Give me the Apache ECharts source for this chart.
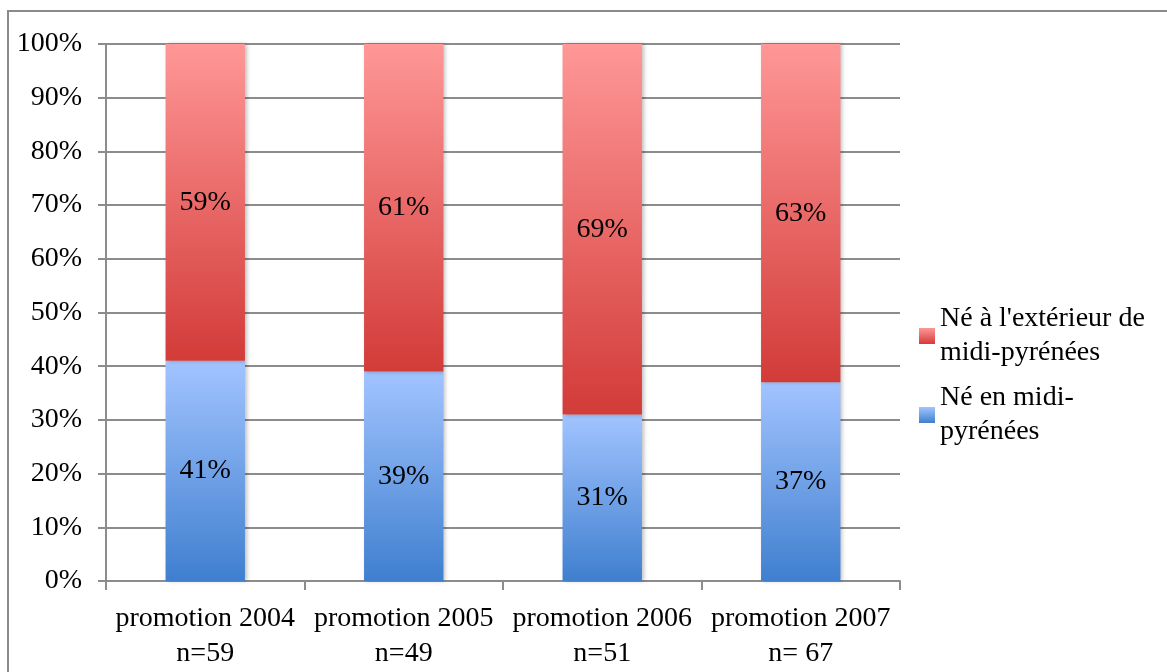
<!DOCTYPE html>
<html>
<head>
<meta charset="utf-8">
<script src="https://cdn.jsdelivr.net/npm/echarts@6/dist/echarts.min.js"></script>
<style>
	html, body { margin: 0; padding: 0; background: #fff; }
	#chart { width: 1167px; height: 672px; }
</style>
</head>
<body>
<div id="chart"></div>
<script>
var categories = ['promotion 2004\nn=59', 'promotion 2005\nn=49', 'promotion 2006\nn=51', 'promotion 2007\nn= 67'];
var bornInside = [41, 39, 31, 37];
var bornOutside = [59, 61, 69, 63];
var seriesNames = ["Né en midi-\npyrénées", "Né à l'extérieur de\nmidi-pyrénées"];
var yTicks = [0, 10, 20, 30, 40, 50, 60, 70, 80, 90, 100];

var font = 'Liberation Serif';

function vGrad(top, bottom) {
	return new echarts.graphic.LinearGradient(0, 0, 0, 1, [
		{offset: 0, color: top},
		{offset: 1, color: bottom}
	]);
}

var chart = echarts.init(document.getElementById('chart'));

var barLabel = {
	show: true,
	position: 'inside',
	formatter: '{c}%',
	fontFamily: font,
	fontSize: 28,
	color: '#000'
};

var option = {
	backgroundColor: '#fff',
	textStyle: { fontFamily: font },
	animation: false,
	graphic: [{
		type: 'rect',
		shape: { x: 8, y: 11, width: 1200, height: 700 },
		style: { fill: 'none', stroke: '#8a8a8a', lineWidth: 2 },
		z: -1
	}],
	grid: {
		left: 106,
		right: 267,
		top: 44,
		bottom: 91
	},
	legend: {
		orient: 'vertical',
		left: 914,
		top: 297,
		itemWidth: 16,
		itemHeight: 16,
		itemGap: 11,
		icon: 'rect',
		textStyle: { fontFamily: font, fontSize: 28, color: '#000', lineHeight: 34 },
		data: [seriesNames[1], seriesNames[0]]
	},
	xAxis: {
		type: 'category',
		data: categories,
		axisLine: { lineStyle: { color: '#8c8c8c', width: 2 } },
		axisTick: { show: true, length: 9, alignWithLabel: false, lineStyle: { color: '#8c8c8c', width: 2 } },
		axisLabel: { interval: 0, fontFamily: font, fontSize: 28, color: '#000', lineHeight: 35, margin: 20 }
	},
	yAxis: {
		type: 'value',
		min: 0,
		max: 100,
		interval: 10,
		axisLine: { show: true, lineStyle: { color: '#8c8c8c', width: 2 } },
		axisTick: { show: true, length: 8, lineStyle: { color: '#8c8c8c', width: 2 } },
		splitLine: { lineStyle: { color: '#8c8c8c', width: 2 } },
		axisLabel: {
			fontFamily: font, fontSize: 28, color: '#000', margin: 24,
			formatter: function (v) { return yTicks.indexOf(v) >= 0 ? v + '%' : ''; }
		}
	},
	series: [
		{
			name: seriesNames[0],
			type: 'bar',
			stack: 'total',
			barWidth: '40%',
			data: bornInside,
			itemStyle: {
				color: vGrad('#a2c4ff', '#3f7fcf'),
				shadowColor: 'rgba(0,0,0,0.25)',
				shadowBlur: 4,
				shadowOffsetX: 2
			},
			label: barLabel
		},
		{
			name: seriesNames[1],
			type: 'bar',
			stack: 'total',
			barWidth: '40%',
			data: bornOutside,
			itemStyle: {
				color: vGrad('#ff9797', '#d23b38'),
				shadowColor: 'rgba(0,0,0,0.25)',
				shadowBlur: 4,
				shadowOffsetX: 2
			},
			label: barLabel
		}
	]
};

chart.setOption(option);
</script>
</body>
</html>
